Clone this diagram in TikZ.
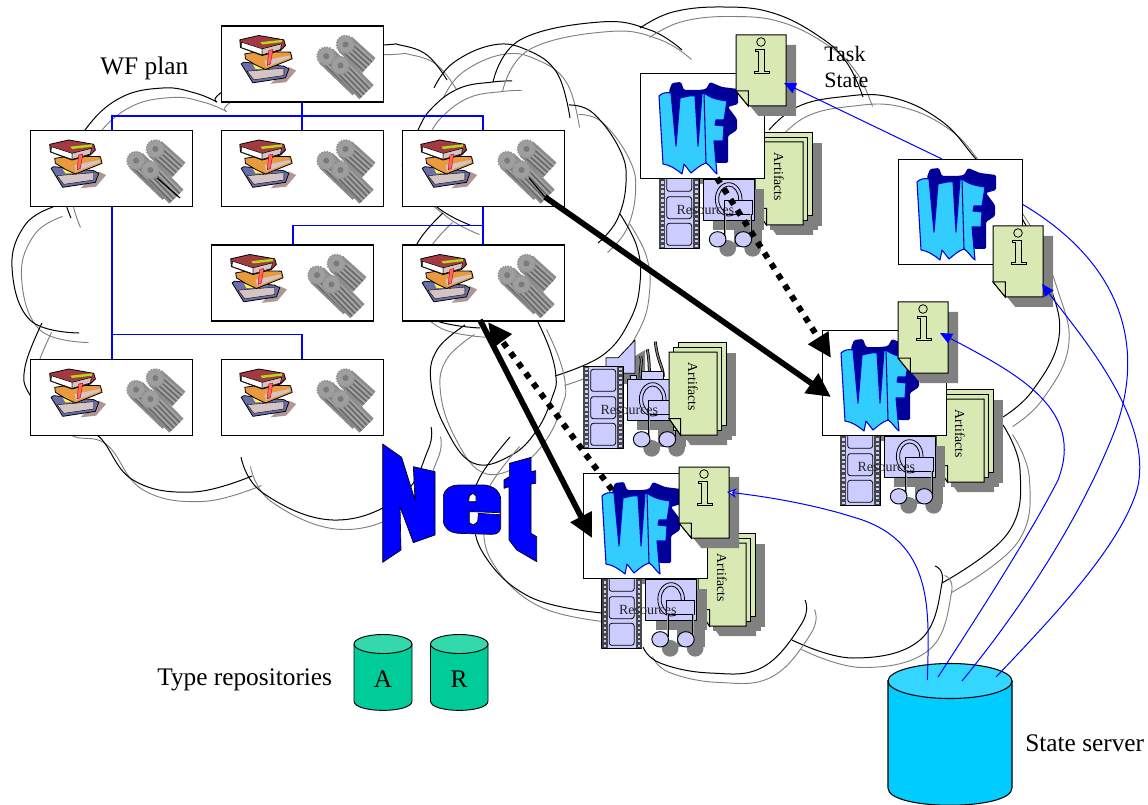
\documentclass[tikz,border=0pt]{standalone}
\usepackage{fontspec}
\setmainfont{Liberation Serif}
\usetikzlibrary{arrows.meta}
\definecolor{notegreen}{HTML}{D9E9B3}
\definecolor{lav}{HTML}{CCCCFF}
\definecolor{wfdark}{HTML}{000099}
\definecolor{wflight}{HTML}{33CCFF}
\definecolor{shade}{HTML}{808080}
\definecolor{teal}{HTML}{00CC99}
\definecolor{tealtop}{HTML}{33D9AD}
\definecolor{sky}{HTML}{00CCFF}
\definecolor{skytop}{HTML}{33D6FF}
\definecolor{bred}{HTML}{A33A42}
\definecolor{borange}{HTML}{E89A3C}
\definecolor{bblue}{HTML}{6B6FA8}
\definecolor{bpage}{HTML}{D4C4C4}
\definecolor{bshadow}{HTML}{B09595}
\newcommand\carc[1]{%
  \draw[draw=shade,line width=.7pt,shift={(9.5,9.5)}] plot[smooth,tension=.7] coordinates {#1};
  \draw[draw=black,line width=.75pt] plot[smooth,tension=.7] coordinates {#1};}
\tikzset{
  planbox/.style={draw=black,fill=white,line width=.8pt,minimum width=121.5pt,minimum height=57pt,inner sep=0pt,anchor=north west},
  wfbox/.style={draw=black,fill=white,line width=.8pt,minimum width=93pt,minimum height=78.5pt,inner sep=0pt,anchor=north west},
  planline/.style={draw=blue,line width=1.05pt},
  thinblue/.style={draw=blue,line width=.75pt},
  thickarrow/.style={draw=black,line width=4.3pt,-{Triangle[length=18pt,width=17pt]}},
  dotarrow/.style={draw=black,line width=4.5pt,dash pattern=on 4.5pt off 5pt,-{Triangle[length=18pt,width=17pt]}},
  bluetip/.style={-{Triangle[length=9pt,width=8pt,fill=blue]}},
  opentip/.style={-{Stealth[length=7pt,width=7pt,open,fill=white]}},
  bigtext/.style={font=\fontsize{19}{23}\selectfont,inner sep=0pt,anchor=base west},
  bookspic/.pic={
    \begin{scope}[x=.25pt,y=-.25pt,line width=.6pt,line join=round]
      \fill[color=bshadow] (150,175) -- (197,170) -- (227,135) -- (205,125) -- cycle;
      \draw[fill=bblue] (62,115) -- (97,172) -- (195,157) -- (205,130) -- (190,122) -- (70,110) -- cycle;
      \draw[fill=bpage,line width=.3pt] (80,137) -- (190,128) -- (190,150) -- (100,163) -- cycle;
      \fill[color=yellow!70!white] (98,118) -- (118,112) -- (125,130) -- (105,130) -- cycle;
      \draw[fill=borange] (73,85) -- (120,78) -- (210,80) -- (215,100) -- (135,132) -- (105,118) -- (75,100) -- cycle;
      \fill[color=bpage] (132,105) -- (207,90) -- (209,97) -- (137,124) -- cycle;
      \draw[fill=bred] (58,43) -- (115,30) -- (190,43) -- (195,60) -- (180,75) -- (125,90) -- (60,66) -- cycle;
      \draw[fill=white,line width=.4pt] (63,50) -- (125,70) -- (125,88) -- (62,66) -- cycle;
      \draw[fill=bpage,line width=.4pt] (125,70) -- (183,55) -- (180,72) -- (125,88) -- cycle;
      \fill[color=yellow!70!green] (120,50) -- (185,43) -- (185,50) -- (125,57) -- cycle;
      \draw[fill=red!60!white,draw=red!70!black,line width=.3pt] (145,75) -- (157,72) -- (150,115) -- (140,120) -- cycle;
    \end{scope}},
  gearspic/.pic={
    \begin{scope}[x=.25pt,y=-.25pt,line cap=butt]
      \foreach \cx/\cy/\dx/\dy in {375/57/70/63,317/92/100/96,360/120/78/80}{
        \draw[draw=black!45,line width=15pt] (\cx,\cy) -- ({\cx+\dx},{\cy+\dy});
        \foreach \k in {-22,-10,2,14}
          \draw[draw=black!60,line width=.9pt] ({\cx+.7*\k},{\cy-.7*\k}) -- ({\cx+\dx+.7*\k},{\cy+\dy-.7*\k});
        \foreach \k in {-16,-4,8,20}
          \draw[draw=black!34,line width=.9pt] ({\cx+.7*\k},{\cy-.7*\k}) -- ({\cx+\dx+.7*\k},{\cy+\dy-.7*\k});
        \fill[color=black!38] (\cx,\cy) circle[radius=27];
        \draw[draw=black!44,line width=1.2pt,dash pattern=on 1pt off 1pt] (\cx,\cy) circle[radius=27];
        \fill[color=black!52] (\cx,\cy) circle[radius=9];
      }
    \end{scope}},
  logopic/.pic={
    \begin{scope}[x=.75pt,y=-.75pt,line join=round]
      \fill[color=wfdark,rounded corners=1pt] (29,18) -- (32,10) -- (41,9) -- (44,17) -- (59,17) -- (66,16) -- (70,9) -- (82,14) -- (98,16) -- (98,31) -- (88,34) -- (97,46) -- (97,57) -- (88,63) -- (88,90) -- (77,90) -- (60,80) -- (37,76) -- cycle;
      \draw[fill=wflight,draw=blue!80!black,line width=.8pt] (19,23) .. controls (22,20) and (26,19) .. (31,20) -- (36,73) -- (40,25) .. controls (45,24) and (50,22) .. (55,23) -- (58,73) -- (62,21) -- (64,20) .. controls (72,26) and (80,27) .. (87,28) -- (84,47) -- (76,47) -- (75,52) -- (84,53) -- (83,68) -- (74,68) -- (77,101) .. controls (72,97) and (70,92) .. (66,90) .. controls (60,92) and (56,96) .. (51,100) -- (44,91) -- (42,101) .. controls (36,96) and (30,92) .. (23,91) -- cycle;
      \draw[draw=wfdark,line width=.8pt] (64,20) -- (66,90);
    \end{scope}},
  notepic/.pic={
    \begin{scope}[x=.75pt,y=-.75pt,line join=miter]
      \fill[color=shade] (10,10) -- (60,10) -- (60,81) -- (22.3,81) -- (10,66) -- cycle;
      \draw[fill=notegreen,line width=.75pt] (0,0) -- (50,0) -- (50,71) -- (12.3,71) -- (0,56) -- cycle;
      \draw[fill=notegreen,line width=.75pt] (0,56) -- (12.3,56) -- (12.3,71) -- cycle;
      \draw[line width=.6pt,fill=notegreen] (25,7) circle[radius=4.3];
      \draw[line width=.6pt,fill=notegreen] (19,14) -- (28,14) -- (28,36) -- (33,36) -- (33,38) -- (18,38) -- (18,36) -- (22,36) -- (22,16) -- (19,16) -- cycle;
    \end{scope}},
  stackpic/.pic={
    \begin{scope}[x=.75pt,y=-.75pt,line join=miter]
      \foreach \o in {9.2,4.6}{\fill[color=shade] ({10+\o},{10-\o}) rectangle ++(48,83);}
      \fill[color=shade] (10,10) -- (58,10) -- (58,93) -- (21.5,93) -- (10,76.5) -- cycle;
      \foreach \o in {9.2,4.6}{\draw[fill=notegreen,line width=.75pt] (\o,-\o) rectangle ++(48,83);}
      \draw[fill=notegreen,line width=.75pt] (0,0) -- (48,0) -- (48,83) -- (11.5,83) -- (0,66.5) -- cycle;
      \draw[fill=notegreen,line width=.75pt] (0,66.5) -- (11.5,66.5) -- (11.5,83) -- cycle;
      \node[rotate=-90,font=\fontsize{10.3}{12}\selectfont,inner sep=0pt] at (24,35) {Artifacts};
    \end{scope}},
  respic/.pic={
    \begin{scope}[shift={(370,320)},x=.25pt,y=-.25pt,line join=round]
      \fill[color=shade] (738,143) -- (825,90) -- (825,190) -- (738,193) -- cycle;
      \fill[color=shade] (802,208) rectangle (955,330);
      \fill[color=shade] (845,385) circle[radius=25];
      \fill[color=shade] (920,385) circle[radius=25];
      \fill[color=shade] (865,300) rectangle (948,380);
      \foreach \a/\b/\c/\d in {810/175/812/108,838/165/832/88,880/170/856/65}{
        \draw[draw=black,line width=2.2pt] (\a,\b) .. controls (\a,140) and (\c+6,125) .. (\c,\d);
        \draw[draw=shade,line width=1pt] (\a,\b) .. controls (\a,140) and (\c+6,125) .. (\c,\d);}
      \draw[fill=lav,line width=.6pt] (708,113) -- (745,113) -- (795,60) -- (795,160) -- (745,160) -- (708,163) -- cycle;
      \draw[fill=lav,line width=.6pt] (782,165) rectangle (800,178);
      \draw[fill=lav,line width=.6pt] (815,155) rectangle (880,178);
      \draw[fill=lav,line width=.8pt] (640,140) rectangle (760,385);
      \foreach \xa in {640,742}{
        \fill[color=black!72] (\xa,140) rectangle ++(18,245);
        \draw[draw=lav,line width=2pt,dash pattern=on 1.7pt off 1.7pt] ({\xa+9},143) -- ({\xa+9},383);}
      \foreach \ya in {148,230,310}{\draw[fill=lav,line width=.6pt,rounded corners=2pt] (662,\ya) rectangle ++(75,66);}
      \draw[fill=lav,line width=.7pt] (772,178) rectangle (925,300);
      \draw[line width=.6pt] (848,238) ellipse[x radius=40,y radius=50];
      \draw[line width=.6pt] (848,238) ellipse[x radius=30,y radius=40];
      \draw[fill=lav,line width=.6pt] (834,240) rectangle (918,282);
      \draw[draw=black,line width=1.7pt] (838,282) -- (838,352);
      \draw[draw=black,line width=1.7pt] (914,282) -- (914,352);
      \draw[draw=shade!70,line width=.9pt] (838,282) -- (838,352);
      \draw[draw=shade!70,line width=.9pt] (914,282) -- (914,352);
      \draw[fill=lav,line width=.7pt] (815,358) ellipse[x radius=25,y radius=23];
      \draw[fill=lav,line width=.7pt] (892,358) ellipse[x radius=25,y radius=23];
      \node[font=\fontsize{10.5}{12}\selectfont,inner sep=0pt,text=black!85] at (778,271) {Resources};
    \end{scope}}
}
\begin{document}
\begin{tikzpicture}[x=.75pt,y=-.75pt]
\useasboundingbox (0,0) rectangle (1148,805);
\fill[color=white] (0,0) rectangle (1148,805);

% left cloud
\carc{(71,218) (62,175) (85,130) (120,98) (163,88) (195,93) (217,102)}
\carc{(217,102) (225,90) (300,50) (383,45) (400,45) (427,55) (447,80)}
\carc{(434,88) (453,63) (493,45) (527,50) (557,73) (570,118)}
\carc{(512,81) (493,82) (460,88) (433,107) (418,130) (403,170) (437,207) (470,225)}
\carc{(569,105) (593,113) (620,150) (626,183) (617,220) (598,243)}
\carc{(620,214) (637,247) (640,283) (630,320) (603,355) (555,376)}
\carc{(443,213) (417,244) (405,285) (430,318) (480,328)}
\carc{(465,325) (437,350) (431,383) (445,427) (473,463) (510,456) (537,430) (553,395) (556,377) (550,350) (537,320)}
\carc{(53,207) (25,225) (12,267) (30,320) (79,333)}
\carc{(42,323) (25,367) (30,395) (60,425) (97,435) (133,480) (193,492) (252,476)}
\carc{(241,457) (263,493) (333,520) (400,497) (428,450) (431,427)}
% right cloud
\carc{(493,82) (520,40) (600,22) (650,30) (682,50)}
\carc{(640,28) (673,12) (723,7) (773,13) (820,37) (847,63) (863,97)}
\carc{(769,130) (797,107) (840,97) (890,97) (940,120) (975,158) (1020,215) (1048,280) (1059,337) (1033,390) (1003,417)}
\carc{(1003,425) (1020,470) (1008,533) (942,583)}
\carc{(935,566) (942,583) (920,640) (853,658) (792,640)}
\carc{(805,600) (802,623) (763,667) (710,673) (660,663) (643,647)}
\carc{(602,613) (530,597) (483,553) (474,507) (480,477) (510,437)}

% WF plan
\node[planbox] (p0) at (220.5,25.5) {};
\node[planbox] (p1) at (30.4,130) {};
\node[planbox] (p2) at (220.5,130) {};
\node[planbox] (p3) at (401.5,130) {};
\node[planbox] (p4) at (211.4,244.5) {};
\node[planbox] (p5) at (401.5,244.5) {};
\node[planbox] (p6) at (30.4,359) {};
\node[planbox] (p7) at (220.5,359) {};
\foreach \n in {p0,p1,p2,p3,p4,p5,p6,p7}{
  \pic at (\n.north west) {bookspic};
  \pic at (\n.north west) {gearspic};
}
\draw[planline] (p0.south) -- (p2.north);
\draw[planline] (p1.north) -- ++(0,-14) -| (p3.north);
\draw[planline] (p1.south) -- (p6.north);
\draw[planline] (p6.north) -- ++(0,-24.5) -| (p7.north);
\draw[planline] (p3.south) -- (p5.north);
\draw[planline] (p5.north) -- ++(0,-19) -| (p4.north);
\coordinate (g1a) at (157,178); \coordinate (g1b) at (180,198);
\draw[draw=black,line width=.9pt] (g1a) -- (g1b);
\coordinate (g3a) at (529,178); \coordinate (g3b) at (545,197);
\draw[draw=black,line width=.9pt] (g3a) -- (g3b);

% Net
\begin{scope}[shift={(370,320)},x=.25pt,y=-.25pt,line join=round]
  \draw[fill=blue,line width=.5pt] (38,372) -- (95,412) -- (135,540) -- (130,440) -- (195,455) -- (195,645) -- (130,668) -- (90,560) -- (93,690) -- (38,727) -- cycle;
  \draw[fill=blue,line width=.5pt] (220,530) .. controls (222,505) and (245,495) .. (265,495) -- (345,495) .. controls (375,500) and (392,515) .. (392,540) -- (392,625) .. controls (388,638) and (380,643) .. (365,643) -- (265,640) .. controls (240,638) and (220,625) .. (220,600) -- cycle;
  \draw[fill=white,line width=.5pt] (296,545) -- (298,528) -- (308,520) -- (318,528) -- (318,545) -- cycle;
  \draw[fill=white,line width=.5pt] (298,575) -- (390,578) -- (390,584) -- (325,580) -- (323,605) -- (310,615) -- (298,608) -- cycle;
  \draw[fill=blue,line width=.5pt] (418,430) -- (483,412) -- (483,455) -- (497,452) -- (497,490) -- (483,492) -- (483,640) -- (500,650) -- (500,725) -- (440,690) -- (417,660) -- (417,500) -- (402,505) -- (402,480) -- (418,470) -- cycle;
\end{scope}

% free resources + artifacts
\pic at (0,0) {respic};
\pic at (669,352) {stackpic};
% others: artifacts behind resources
\pic at (755,142) {stackpic};
\pic at (76,-200) {respic};
\pic at (936,399) {stackpic};
\pic at (257,57) {respic};
\pic at (698,543) {stackpic};
\pic at (18.5,200) {respic};

% WF boxes
\node[wfbox] (b1) at (640,73) {};
\node[wfbox] (b2) at (898,159) {};
\node[wfbox] (b3) at (822,330) {};
\node[wfbox] (b4) at (583,473) {};
\foreach \n in {b1,b2,b3,b4}{\pic at (\n.north west) {logopic};}
\pic at (736,35) {notepic};
\pic at (993,226) {notepic};
\pic at (898,302) {notepic};
\pic at (679,467) {notepic};

% repositories
\draw[fill=teal,line width=.7pt] (354,644) -- (354,701) .. controls (354,713.5) and (412,713.5) .. (412,701) -- (412,644) -- cycle;
\draw[fill=tealtop,line width=.7pt] (383,644) ellipse[x radius=29,y radius=9.5];
\draw[fill=teal,line width=.7pt] (430.5,644) -- (430.5,701) .. controls (430.5,713.5) and (488,713.5) .. (488,701) -- (488,644) -- cycle;
\draw[fill=tealtop,line width=.7pt] (459.25,644) ellipse[x radius=28.75,y radius=9.5];
\node[font=\fontsize{19}{23}\selectfont,inner sep=0pt,anchor=base] (ra) at (383,687) {A};
\node[font=\fontsize{19}{23}\selectfont,inner sep=0pt,anchor=base] (rr) at (459,687) {R};
% state server
\draw[fill=sky,line width=.8pt] (888,681) -- (888,788) .. controls (888,811) and (1012,811) .. (1012,788) -- (1012,681) -- cycle;
\draw[fill=skytop,line width=.8pt] (950,681) ellipse[x radius=62,y radius=17.5];

% labels
\node[bigtext] (lplan) at (100,75) {WF plan};
\node[bigtext] (lrepo) at (157,685) {Type repositories};
\node[bigtext] (lserv) at (1025,751) {State server};
\node[font=\fontsize{16.5}{20}\selectfont,inner sep=0pt,anchor=base west] (ltask) at (824,62) {Task};
\node[font=\fontsize{16.5}{20}\selectfont,inner sep=0pt,anchor=base west] (lstate) at (824,88) {State};

% thick arrows
\coordinate (a1s) at (545,197); \coordinate (a1e) at (831,397);
\coordinate (a2s) at (717,178); \coordinate (a2e) at (831,358);
\coordinate (a3s) at (480,320); \coordinate (a3e) at (592,538);
\coordinate (a4s) at (612,490); \coordinate (a4e) at (488,322);
\draw[thickarrow] (a1s) -- (a1e);
\draw[dotarrow] (a2s) -- (a2e);
\draw[thickarrow] (a3s) -- (a3e);
\draw[dotarrow] (a4s) -- (a4e);

% blue state links
\coordinate (s1) at (927.4,680); \coordinate (s2) at (938,677);
\coordinate (s3) at (962,681); \coordinate (s4) at (996,677);
\coordinate (t1) at (784,83); \coordinate (t2) at (1042,284);
\coordinate (t3) at (940,333); \coordinate (t4) at (727,492);
\coordinate (c5m) at (853,517);
\coordinate (b1s) at (942,159); \coordinate (b2e) at (1022,204);
\draw[thinblue,bluetip] (b1s) -- (t1);
\draw[thinblue] (s3) .. controls (1020,610) and (1080,520) .. (1115,430) .. controls (1145,350) and (1125,265) .. (b2e);
\draw[thinblue,bluetip] (s4) .. controls (1060,610) and (1120,545) .. (1137,490) .. controls (1155,420) and (1080,335) .. (t2);
\draw[thinblue,bluetip] (s2) .. controls (975,620) and (1030,535) .. (1058,480) .. controls (1085,410) and (1020,375) .. (t3);
\draw[thinblue,opentip] (s1) .. controls (929,610) and (935,540) .. (c5m) .. controls (815,505) and (770,497) .. (t4);
\end{tikzpicture}
\end{document}
